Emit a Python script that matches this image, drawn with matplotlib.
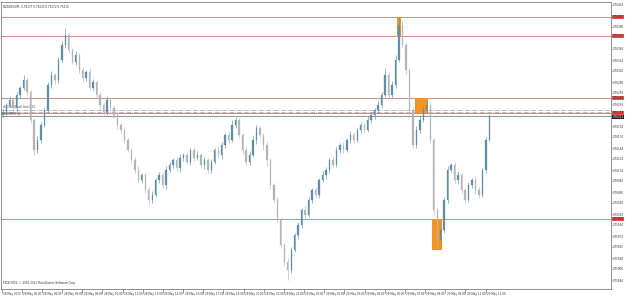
import matplotlib
matplotlib.use("Agg")
import matplotlib.pyplot as plt
import numpy as np

# NZDUSD M5 closes
closes = [0.76220, 0.76234, 0.76244, 0.76228, 0.76254, 0.76268, 0.76284, 0.76260, 0.76204, 0.76144,
          0.76164, 0.76194, 0.76224, 0.76274, 0.76294, 0.76284, 0.76324, 0.76354, 0.76374, 0.76344,
          0.76320, 0.76334, 0.76304, 0.76288, 0.76300, 0.76268, 0.76280, 0.76254, 0.76234, 0.76220,
          0.76244, 0.76228, 0.76214, 0.76194, 0.76184, 0.76164, 0.76144, 0.76124, 0.76104, 0.76084,
          0.76094, 0.76064, 0.76044, 0.76054, 0.76084, 0.76094, 0.76074, 0.76104, 0.76114, 0.76124,
          0.76108, 0.76128, 0.76134, 0.76120, 0.76144, 0.76128, 0.76134, 0.76114, 0.76124, 0.76104,
          0.76120, 0.76144, 0.76134, 0.76154, 0.76174, 0.76164, 0.76194, 0.76204, 0.76174, 0.76144,
          0.76120, 0.76134, 0.76164, 0.76188, 0.76174, 0.76154, 0.76124, 0.76074, 0.76044, 0.76004,
          0.75954, 0.75920, 0.75904, 0.75944, 0.75974, 0.75994, 0.76024, 0.76014, 0.76044, 0.76064,
          0.76054, 0.76084, 0.76094, 0.76104, 0.76124, 0.76114, 0.76144, 0.76154, 0.76144, 0.76164,
          0.76174, 0.76164, 0.76184, 0.76194, 0.76184, 0.76204, 0.76214, 0.76224, 0.76234, 0.76254,
          0.76294, 0.76254, 0.76274, 0.76324, 0.76394, 0.76354, 0.76304, 0.76224, 0.76154, 0.76184,
          0.76204, 0.76224, 0.76234, 0.76164, 0.76024, 0.75964, 0.75984, 0.76044, 0.76104, 0.76114,
          0.76084, 0.76094, 0.76064, 0.76044, 0.76074, 0.76084, 0.76064, 0.76054, 0.76104, 0.76164,
          0.76212]
first_open = 0.76214

# wick lengths in points (0.00001)
upper_wick = [6, 4, 8, 5, 6, 4, 10, 6, 5, 4, 8, 6, 5, 6, 8, 5, 6, 8, 14, 6,
              5, 8, 4, 6, 5, 8, 6, 4, 6, 5, 8, 4, 6, 5, 4, 6, 5, 4, 6, 8,
              5, 4, 6, 8, 5, 6, 4, 8, 6, 5, 6, 8, 5, 6, 4, 6, 8, 5, 6, 4,
              6, 5, 8, 6, 4, 8, 10, 6, 5, 4, 6, 8, 10, 6, 4, 5, 6, 4, 5, 6,
              4, 5, 8, 6, 4, 6, 5, 8, 6, 4, 6, 5, 8, 6, 4, 8, 6, 5, 6, 4,
              8, 6, 5, 6, 4, 8, 6, 4, 8, 6, 14, 6, 8, 10, 16, 8, 6, 4, 6, 8,
              10, 8, 12, 6, 5, 6, 4, 6, 8, 5, 6, 8, 5, 4, 6, 5, 8, 6, 4, 6, 4]
lower_wick = [5, 6, 4, 8, 5, 6, 4, 8, 6, 10, 6, 5, 4, 6, 5, 8, 6, 4, 5, 6,
              4, 6, 5, 8, 6, 4, 6, 5, 8, 6, 5, 4, 6, 8, 5, 6, 4, 6, 5, 4,
              6, 5, 8, 6, 4, 6, 5, 8, 4, 6, 5, 8, 6, 4, 6, 5, 4, 6, 8, 5,
              6, 4, 5, 8, 6, 5, 4, 6, 5, 8, 6, 5, 4, 8, 6, 10, 12, 8, 6, 4,
              6, 8, 20, 6, 4, 8, 5, 6, 4, 6, 5, 6, 4, 8, 5, 6, 4, 5, 6, 4,
              6, 5, 4, 6, 5, 4, 6, 8, 5, 6, 4, 6, 5, 6, 4, 6, 8, 10, 6, 5,
              6, 4, 5, 6, 10, 20, 8, 6, 5, 4, 6, 8, 5, 6, 4, 6, 8, 5, 4, 6, 2]

# horizontal levels
red_levels = [0.76410, 0.76372, 0.76248, 0.76218, 0.76006]
dashdot_levels = [0.76224, 0.76220]
bid = 0.76212

# orange zones: (first candle, last candle, low, high)
zones = [(114, 114, 0.76372, 0.76410),
         (119, 122, 0.76218, 0.76248),
         (124, 126, 0.75944, 0.76006)]

price_ticks = [0.76434 - k * 0.00022 for k in range(26)]
time_labels = ["28 May 2013", "28 May 05:00", "28 May 06:00", "28 May 08:00", "28 May 09:00",
               "28 May 10:00", "28 May 12:00", "28 May 13:00", "28 May 14:00", "28 May 16:00",
               "28 May 17:00", "28 May 18:00", "28 May 20:00", "28 May 21:00", "28 May 22:00",
               "29 May 00:00", "29 May 01:00", "29 May 03:00", "29 May 04:00", "29 May 05:00",
               "29 May 07:00", "29 May 08:00", "29 May 09:00", "29 May 11:00", "29 May 12:00"]

closes = np.array(closes)
opens = np.concatenate([[first_open], closes[:-1]])
highs = np.maximum(opens, closes) + np.array(upper_wick) * 1e-5
lows = np.minimum(opens, closes) - np.array(lower_wick) * 1e-5
idx = np.arange(len(closes))
up = closes >= opens

bull_col = '#5f8fa8'
bear_col = '#b4b4b4'
fs = 2.0

fig = plt.figure(figsize=(6.25, 2.97), dpi=100)
ax = fig.add_axes([1 / 625, 8 / 297, 610 / 625, 287 / 297])

ax.set_xlim(-0.5, 175)
ax.set_ylim(0.75866, 0.76440)

for lv in red_levels:
    ax.axhline(lv, color='#d08a8a', lw=0.7, zorder=1)
for lv in dashdot_levels:
    ax.axhline(lv, color='#9a9a9a', lw=0.5, ls='-.', zorder=1)
ax.axhline(bid, color='#808080', lw=0.6, zorder=1)

# orange zones
for i0, i1, lo, hi in zones:
    ax.bar((i0 + i1) / 2, hi - lo, width=i1 - i0 + 0.9, bottom=lo,
           color='#f7931e', zorder=2)

colors = np.where(up, bull_col, bear_col)
ax.vlines(idx, lows, highs, colors=colors, lw=0.45, zorder=3)
body = np.maximum(np.abs(closes - opens), 0.000015)
ax.bar(idx, body, width=0.4, bottom=np.minimum(opens, closes),
       color=colors, edgecolor=colors, lw=0.2, zorder=4)

# right price scale (ticks hidden under the level boxes are skipped)
boxed = red_levels + [bid]
shown = [p for p in price_ticks if min(abs(p - b) for b in boxed) > 0.00008]
ax.yaxis.tick_right()
ax.set_yticks(shown)
ax.set_yticklabels([f"{p:.5f}" for p in shown])
ax.tick_params(axis='y', labelsize=fs, length=1.0, width=0.4, pad=0.4, colors='#333333')
ax.set_xticks([])

for lv in red_levels:
    ax.text(1.0025, lv, f"{lv:.5f}", transform=ax.get_yaxis_transform(), fontsize=fs,
            va='center', ha='left', color='#222222',
            bbox=dict(boxstyle='square,pad=0.15', fc='#e85050', ec='none'))
ax.text(1.0025, bid - 0.00002, f"{bid:.5f}", transform=ax.get_yaxis_transform(), fontsize=fs,
        va='center', ha='left', color='white',
        bbox=dict(boxstyle='square,pad=0.15', fc='#202020', ec='none'))

# time scale
step = 5.8
for k, lab in enumerate(time_labels):
    xp = k * step - 0.3
    ax.annotate(lab, xy=(xp, 0), xycoords=('data', 'axes fraction'),
                xytext=(1, -3.6), textcoords='offset points', fontsize=fs,
                ha='left', va='center', color='#333333', annotation_clip=False)
    ax.plot([xp, xp], [0, -0.014], transform=ax.get_xaxis_transform(),
            color='#555555', lw=0.4, clip_on=False)

ax.text(0.004, 0.988, "NZDUSD,M5  0.76177 0.76225 0.76172 0.76210", transform=ax.transAxes,
        fontsize=fs, va='top', ha='left', color='#333333')
ax.text(0.004, 0.02, "FXDD MT4, \u00a9 2001-2013 MetaQuotes Software Corp.", transform=ax.transAxes,
        fontsize=fs, va='center', ha='left', color='#333333')
ax.text(0.004, dashdot_levels[0] + 0.00003, "#2308991 sell limit 0.10", fontsize=1.9,
        transform=ax.get_yaxis_transform(), va='bottom', ha='left', color='#444444')
ax.text(0.004, dashdot_levels[1] - 0.00001, "#2308991 tp", fontsize=1.9,
        transform=ax.get_yaxis_transform(), va='top', ha='left', color='#444444')

for s in ax.spines.values():
    s.set_color('#808080')
    s.set_linewidth(0.6)

fig.savefig('out.png', dpi=100)
